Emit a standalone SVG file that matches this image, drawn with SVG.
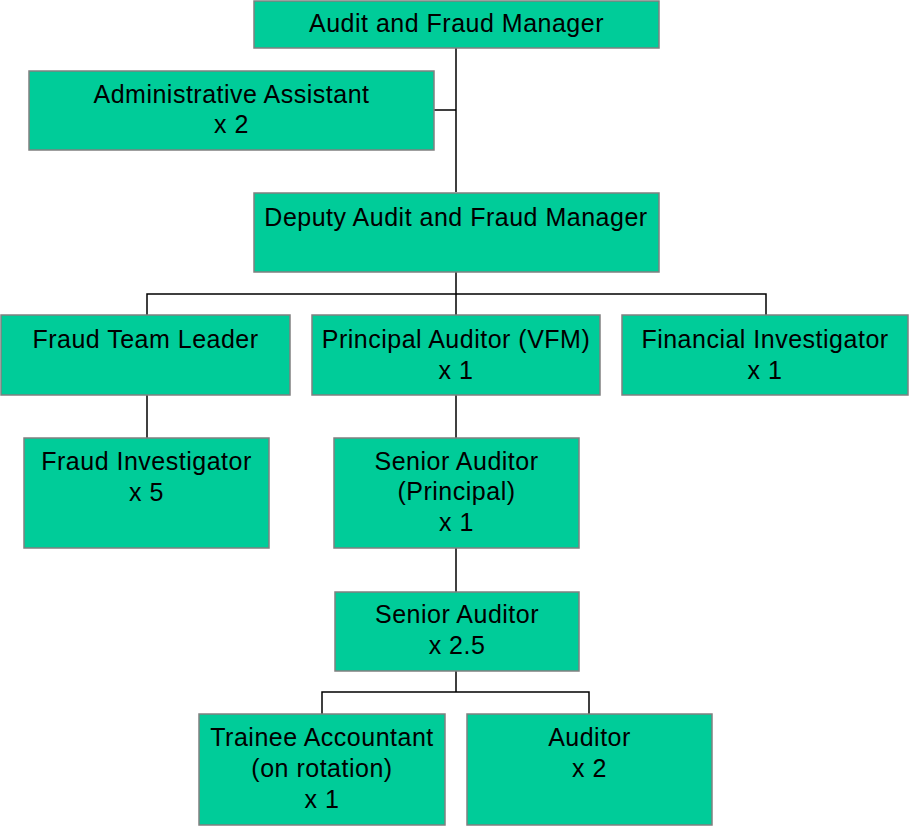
<svg xmlns="http://www.w3.org/2000/svg" width="909" height="826" viewBox="0 0 909 826">
<style>
.box{fill:#00CC99;stroke:#808080;stroke-width:1.5}
.t{font-family:"Liberation Sans",Arial,sans-serif;font-size:25px;letter-spacing:0.5px;fill:#000;text-anchor:middle}
.c{fill:none;stroke:#000;stroke-width:1.5}
</style>
<rect width="909" height="826" fill="#fff"/>
<g id="connectors">
<path class="c" d="M456 48V192M434 110H456"/>
<path class="c" d="M456 272V315M147 315V294H766V315"/>
<path class="c" d="M147 395V438"/>
<path class="c" d="M456 395V438"/>
<path class="c" d="M456 548V592"/>
<path class="c" d="M456 671V692M322 714V692H589V714"/>
</g>
<g id="audit-fraud-manager">
<rect class="box" x="254" y="1" width="405" height="47"/>
<text class="t" x="456.5" y="32">Audit and Fraud Manager</text>
</g>
<g id="admin-assistant">
<rect class="box" x="29" y="71" width="405" height="79"/>
<text class="t" x="231.5" y="103">Administrative Assistant</text>
<text class="t" x="231.5" y="133">x 2</text>
</g>
<g id="deputy-manager">
<rect class="box" x="254" y="193" width="405" height="79"/>
<text class="t" x="456" y="226">Deputy Audit and Fraud Manager</text>
</g>
<g id="fraud-team-leader">
<rect class="box" x="1" y="315" width="289" height="80"/>
<text class="t" x="145.5" y="348">Fraud Team Leader</text>
</g>
<g id="principal-auditor">
<rect class="box" x="312" y="315" width="288" height="80"/>
<text class="t" x="456" y="348">Principal Auditor (VFM)</text>
<text class="t" x="456" y="379">x 1</text>
</g>
<g id="financial-investigator">
<rect class="box" x="622" y="315" width="286" height="80"/>
<text class="t" x="765" y="348">Financial Investigator</text>
<text class="t" x="765" y="379">x 1</text>
</g>
<g id="fraud-investigator">
<rect class="box" x="24" y="438" width="245" height="110"/>
<text class="t" x="146.5" y="470">Fraud Investigator</text>
<text class="t" x="146.5" y="501">x 5</text>
</g>
<g id="senior-auditor-principal">
<rect class="box" x="334" y="438" width="245" height="110"/>
<text class="t" x="456.5" y="470">Senior Auditor</text>
<text class="t" x="456.5" y="500">(Principal)</text>
<text class="t" x="456.5" y="531">x 1</text>
</g>
<g id="senior-auditor">
<rect class="box" x="335" y="592" width="244" height="79"/>
<text class="t" x="457" y="623">Senior Auditor</text>
<text class="t" x="457" y="654">x 2.5</text>
</g>
<g id="trainee-accountant">
<rect class="box" x="199" y="714" width="246" height="111"/>
<text class="t" x="322" y="746">Trainee Accountant</text>
<text class="t" x="322" y="777">(on rotation)</text>
<text class="t" x="322" y="808">x 1</text>
</g>
<g id="auditor">
<rect class="box" x="467" y="714" width="245" height="111"/>
<text class="t" x="589.5" y="746">Auditor</text>
<text class="t" x="589.5" y="777">x 2</text>
</g>
</svg>
